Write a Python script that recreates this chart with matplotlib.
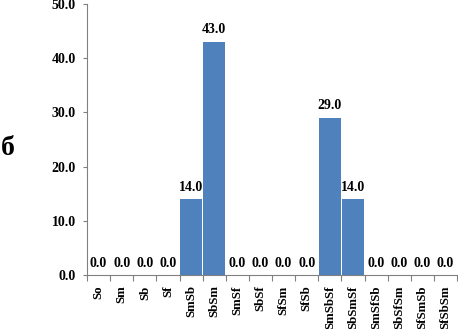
import matplotlib
matplotlib.use('Agg')
import matplotlib.pyplot as plt
import numpy as np

## 데이터
categories = ['So', 'Sm', 'Sb', 'Sf', 'SmSb', 'SbSm', 'SmSf', 'SbSf', 'SfSm', 'SfSb',
              'SmSbSf', 'SbSmSf', 'SmSfSb', 'SbSfSm', 'SfSmSb', 'SfSbSm']
values = [0.0, 0.0, 0.0, 0.0, 14.0, 43.0, 0.0, 0.0, 0.0, 0.0,
          29.0, 14.0, 0.0, 0.0, 0.0, 0.0]
y_ticks = [0, 10, 20, 30, 40, 50]

plt.rcParams['font.family'] = ['Liberation Serif', 'DejaVu Serif']
plt.rcParams['font.weight'] = 'bold'

fig = plt.figure(figsize=(4.58, 3.29), dpi=100)
ax = fig.add_axes([0.19, 0.164, 0.808, 0.824])

x = np.arange(len(categories))
bars = ax.bar(x, values, width=0.95, color='#4F81BD', zorder=2)

## 값 라벨
for xi, v in zip(x, values):
    ax.text(xi, v + 1.0, '%.1f' % v, ha='center', va='bottom',
            fontsize=10, fontweight='bold')

ax.set_xlim(-0.5, len(categories) - 0.5)
ax.set_ylim(0, 50)
ax.set_yticks(y_ticks)
ax.set_yticklabels(['%.1f' % t for t in y_ticks], fontsize=10, fontweight='bold')

## 범주 경계에 눈금
ax.set_xticks(np.arange(-0.5, len(categories), 1.0))
ax.set_xticklabels([])
ax.set_xticks(x, minor=True)
ax.set_xticklabels(categories, minor=True, rotation=90, fontsize=9.3, fontweight='bold')
ax.tick_params(axis='x', which='minor', length=0, pad=7.5)
ax.tick_params(axis='x', which='major', length=4, color='#808080')
ax.tick_params(axis='y', length=3, color='#808080', pad=5)

for s in ['top', 'right']:
    ax.spines[s].set_visible(False)
for s in ['left', 'bottom']:
    ax.spines[s].set_color('#808080')
    ax.spines[s].set_linewidth(0.8)

fig.text(0.016, 0.55, 'б', fontsize=20, fontweight='bold', ha='center', va='center')

plt.savefig('out.png', dpi=100)
